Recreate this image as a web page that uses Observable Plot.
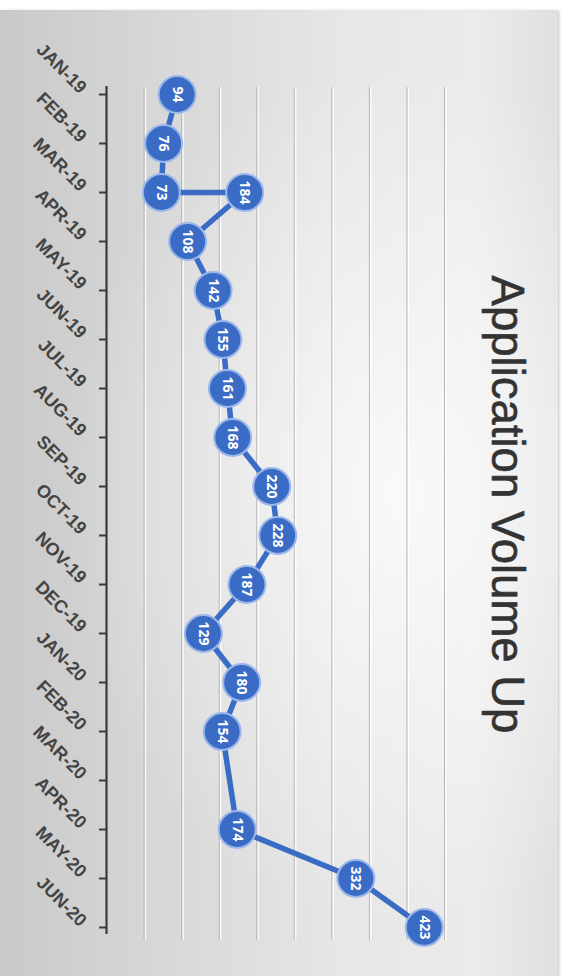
<!DOCTYPE html>
<html>
<head>
<meta charset="utf-8">
<script src="https://cdn.jsdelivr.net/npm/d3@7"></script>
<script src="https://cdn.jsdelivr.net/npm/@observablehq/plot@0.6"></script>
<style>
  html, body { margin: 0; padding: 0; background: #ffffff; }
  #wrap { position: relative; width: 566px; height: 976px; overflow: hidden; }
  #panel {
    position: absolute; left: 0; top: 10px; width: 558px; height: 966px;
    background:
      radial-gradient(ellipse 60% 45% at 72% 50%, rgba(255,255,255,0.75), rgba(255,255,255,0) 100%),
      linear-gradient(to right, #c9c9c9 0%, #d8d8d8 30%, #e6e6e6 60%, #ebebeb 85%, #e0e0e0 100%);
    box-shadow: 1px 1px 3px rgba(0,0,0,0.25);
  }
  #chart { position: absolute; left: 0; top: 0; }
  #chart svg { background: transparent; }
  #chart svg g[aria-label="y-axis tick label"] text { font-size: 18px !important; font-weight: 700; fill: #444444; }
</style>
</head>
<body>
<div id="wrap"><div id="panel"></div><div id="chart"></div></div>
<script>
const categories = ["JAN-19","FEB-19","MAR-19","APR-19","MAY-19","JUN-19","JUL-19","AUG-19","SEP-19","OCT-19","NOV-19","DEC-19","JAN-20","FEB-20","MAR-20","APR-20","MAY-20","JUN-20"];
const pointMonths = ["JAN-19","FEB-19","MAR-19","MAR-19","APR-19","MAY-19","JUN-19","JUL-19","AUG-19","SEP-19","OCT-19","NOV-19","DEC-19","JAN-20","FEB-20","APR-20","MAY-20","JUN-20"];
const values = [94,76,73,184,108,142,155,161,168,220,228,187,129,180,154,174,332,423];
const gridValues = [50,100,150,200,250,300,350,400,450];
const title = "Application Volume Up";

const data = values.map((v, i) => ({month: pointMonths[i], value: v}));

const blue = "#3a6cc6";

const chart = Plot.plot({
  width: 566,
  height: 976,
  marginLeft: 106,
  marginRight: 122,
  marginTop: 87,
  marginBottom: 43,
  style: {fontFamily: "'Liberation Sans', Arial, sans-serif", background: "transparent"},
  x: {domain: [0, 450], axis: null},
  y: {type: "point", domain: categories, padding: 0, axis: null, label: null},
  marks: [
    Plot.ruleX(gridValues, {x: d => d, stroke: "#ffffff", strokeWidth: 1.2, dx: 1.5, insetBottom: -7}),
    Plot.ruleX(gridValues, {x: d => d, stroke: "#b8b8b8", strokeWidth: 1, insetBottom: -7}),
    Plot.ruleX([0], {stroke: "#3a3a3a", strokeWidth: 2.2, insetTop: -1, insetBottom: -1}),
    Plot.axisY({anchor: "left", label: null, tickSize: 7, tickFormat: () => "", stroke: "#3a3a3a", strokeWidth: 2}),
    Plot.axisY({anchor: "left", label: null, tickSize: 0, tickPadding: 23, tickRotate: 45, fontSize: 18, dy: -4}),
    Plot.line(data, {x: "value", y: "month", stroke: blue, strokeWidth: 5.5}),
    Plot.dot(data, {x: "value", y: "month", r: 18.5, fill: blue, stroke: "#9cb8ea", strokeWidth: 2}),
    Plot.text(data, {x: "value", y: "month", text: d => String(d.value), rotate: 90, fill: "#ffffff", fontSize: 14, fontWeight: 700, fontFamily: "'Open Sans', sans-serif"}),
    Plot.text([title], {frameAnchor: "right", textAnchor: "middle", dx: 62, dy: -6, rotate: 90, fontSize: 45.5, fill: "#333333", stroke: "#333333", strokeWidth: 0.6, text: d => d})
  ]
});
document.getElementById("chart").appendChild(chart);
</script>
</body>
</html>
